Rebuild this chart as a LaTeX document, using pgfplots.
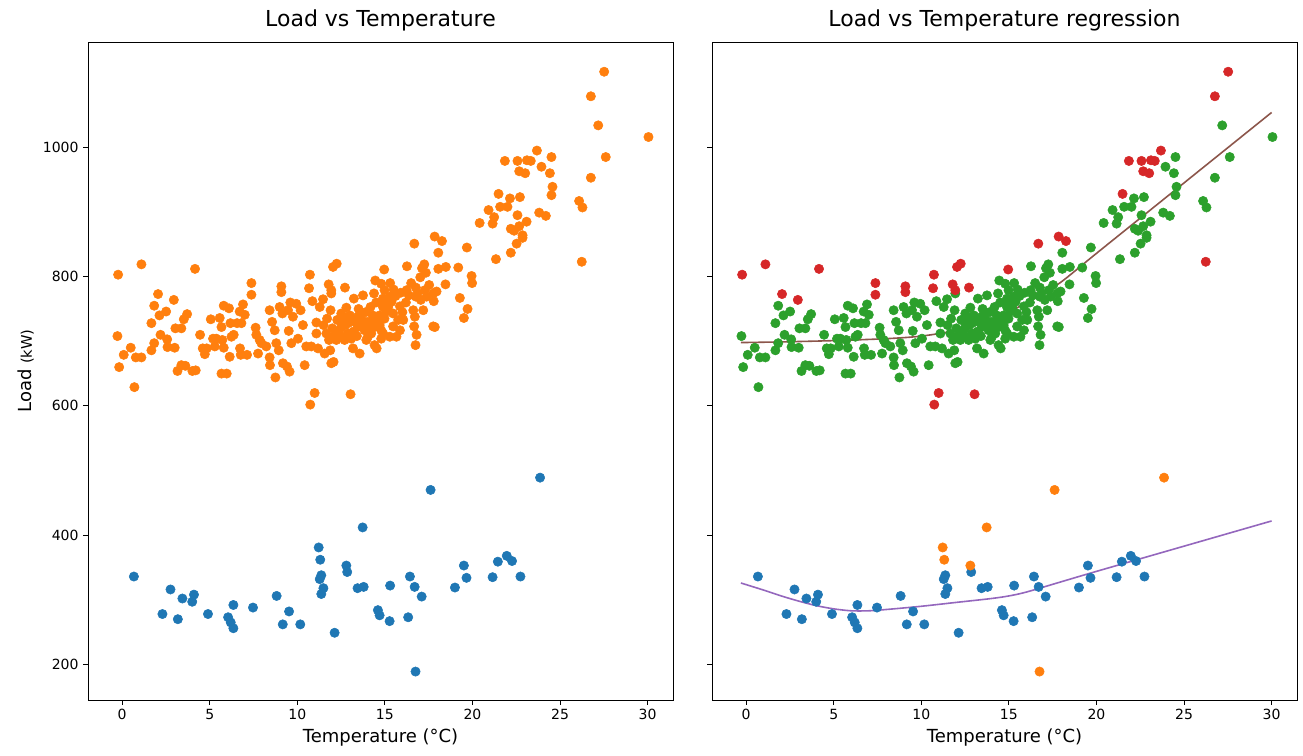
\documentclass[border=0pt]{standalone}
\usepackage{fontspec}
\setmainfont{DejaVu Sans}
\usepackage{pgfplots}
\usepackage{pgfplotstable}
\pgfplotsset{compat=1.18}

\definecolor{c0}{HTML}{1F77B4}
\definecolor{c1}{HTML}{FF7F0E}
\definecolor{c2}{HTML}{2CA02C}
\definecolor{c3}{HTML}{D62728}
\definecolor{c4}{HTML}{9467BD}
\definecolor{c5}{HTML}{8C564B}

% lower cluster, inliers
\pgfplotstableread{
x y
0.67 336
2.76 316
2.30 278
3.18 270
3.44 302
4.00 297
4.10 308
4.90 278
6.05 273
6.20 265
6.35 256
6.35 292
7.47 288
8.82 306
9.17 262
9.53 282
10.17 262
11.37 338
11.28 332
11.49 318
11.37 309
12.13 249
12.85 343
13.44 318
13.79 320
14.60 284
14.70 276
15.27 267
15.30 322
16.33 273
16.43 336
16.70 320
17.10 305
19.00 319
19.51 353
19.66 334
21.15 335
21.45 359
21.96 368
22.26 360
22.74 336
}\lowin

% lower cluster, outliers
\pgfplotstableread{
x y
11.22 381
11.31 362
12.80 353
13.73 412
16.75 189
17.61 470
23.86 489
}\lowout

% upper cluster, outliers
\pgfplotstableread{
x y
-0.23 803
1.10 819
2.05 773
2.95 764
4.16 812
7.38 790
7.38 772
9.09 785
9.09 776
10.72 803
10.67 782
11.79 788
11.94 779
12.04 815
12.25 820
12.72 783
14.96 811
10.99 620
10.74 602
13.04 618
27.52 1117
26.76 1079
23.68 995
21.85 979
22.57 979
23.11 980
23.33 979
22.67 963
23.01 960
21.49 928
17.84 862
18.26 855
16.68 851
26.24 823
}\upout

% upper cluster, inliers
\pgfplotstableread{
x y
-0.27 708
-0.17 660
0.09 679
0.49 690
0.70 629
0.78 675
1.10 675
1.67 728
1.67 686
1.83 755
1.83 697
2.13 740
2.19 710
2.51 746
2.57 703
2.59 691
3.00 690
3.04 720
3.38 720
3.52 734
3.71 742
3.16 654
3.38 663
3.61 662
4.01 654
4.20 655
4.45 710
4.60 689
4.72 680
4.83 689
5.06 734
5.19 704
5.29 692
5.38 704
5.57 736
5.67 722
5.67 650
5.72 702
5.80 755
5.80 690
5.97 650
6.10 751
6.14 676
6.18 728
6.24 707
6.37 710
6.56 728
6.71 746
6.73 689
6.77 679
6.90 757
7.00 741
6.81 728
7.13 679
7.62 721
7.66 710
7.76 681
7.85 702
7.95 697
8.23 692
8.42 748
8.42 675
8.44 663
8.56 730
8.71 717
8.75 644
8.80 697
8.94 686
8.99 753
9.15 743
9.18 666
9.41 661
9.47 748
9.51 716
9.56 653
9.60 760
9.66 697
9.75 738
9.94 758
10.04 704
10.19 748
10.32 725
10.42 663
10.51 692
10.80 692
10.86 762
11.09 729
11.09 712
11.18 689
11.28 753
11.47 765
11.56 681
11.66 712
11.81 702
11.90 748
11.94 666
12.07 668
11.88 686
11.94 774
12.23 702
12.28 733
12.42 717
12.51 743
12.61 733
12.70 702
12.74 725
12.89 712
13.08 704
13.18 689
13.23 766
13.27 730
13.46 722
13.56 681
13.61 740
13.75 771
13.84 717
14.00 730
14.03 707
14.18 753
14.32 733
14.38 774
14.41 694
14.41 722
14.53 689
14.70 740
14.79 789
14.79 717
14.89 766
14.89 753
14.98 779
14.98 735
12.51 722
12.80 735
13.46 738
13.65 728
14.13 725
14.60 730
13.94 702
14.22 712
14.79 704
11.50 725
11.70 735
12.00 720
12.10 708
12.30 712
12.60 706
12.90 728
13.00 740
13.20 715
13.40 708
13.70 732
13.90 745
14.10 718
14.30 740
14.50 760
14.70 725
15.00 760
13.50 750
12.80 752
14.90 712
15.50 780
15.90 775
16.20 760
16.50 790
15.30 790
16.00 745
27.18 1034
30.05 1016
27.61 985
26.76 953
26.09 917
26.28 907
24.51 985
23.94 970
24.42 960
24.57 939
24.51 926
23.81 899
24.19 894
22.71 923
22.14 921
21.58 908
22.00 908
22.57 895
20.92 903
21.24 892
21.15 882
20.41 883
23.09 885
22.67 878
22.19 874
22.38 871
22.86 864
22.86 860
22.52 851
22.19 837
21.34 827
19.68 845
19.19 814
19.95 801
18.05 837
16.26 816
17.25 819
17.12 813
17.34 806
18.05 812
18.48 815
17.02 799
14.45 794
15.28 769
15.61 770
15.86 754
15.19 753
15.38 761
15.09 746
16.24 779
16.37 771
16.77 783
16.86 774
16.77 769
16.62 748
16.71 738
16.67 723
16.81 710
16.75 694
17.19 748
17.05 764
17.28 779
17.53 787
17.76 774
17.79 762
17.38 769
17.95 777
17.76 723
17.85 722
18.46 788
19.28 767
19.72 750
19.51 736
19.98 790
15.76 733
15.86 717
16.05 733
15.47 723
15.66 707
15.28 707
15.47 743
}\upin

\pgfplotsset{
  panel/.style={
    scale only axis, width=438.75pt, height=493.5pt,
    xmin=-1.95, xmax=31.45, ymin=145, ymax=1163,
    xtick={0,5,...,30}, ytick={200,400,...,1000},
    tick align=outside, xtick pos=lower, ytick pos=left,
    major tick length=3.6pt,
    tick style={black, line width=0.6pt},
    axis line style={line width=0.6pt},
    ticklabel style={font=\fontsize{10.5}{12}\selectfont},
    /pgf/number format/assume math mode=true,
    /pgf/number format/1000 sep={},
    title style={font=\fontsize{16.5}{20}\selectfont, yshift=-1.5pt},
    xlabel style={font=\fontsize{13.5}{16}\selectfont},
    ylabel style={font=\fontsize{13.5}{16}\selectfont},
    anchor=south west,
  },
  dots/.style={only marks, mark=*, mark size=3.5pt, mark options={draw=#1, fill=#1}},
}

\begin{document}
\begin{tikzpicture}
\useasboundingbox (-66pt,-42pt) rectangle (911.25pt,525pt);

\begin{axis}[panel, at={(0pt,0pt)},
  title={Load vs Temperature},
  xlabel={Temperature (°C)},
  ylabel={Load {\fontsize{11}{13}\selectfont(kW)}}]
\addplot[dots=c0] table {\lowin};
\addplot[dots=c0] table {\lowout};
\addplot[dots=c1] table {\upin};
\addplot[dots=c1] table {\upout};
\end{axis}

\begin{axis}[panel, at={(468pt,0pt)},
  title={Load vs Temperature regression},
  xlabel={Temperature (°C)},
  yticklabels={}]
\addplot[dots=c0] table {\lowin};
\addplot[dots=c1] table {\lowout};
\addplot[dots=c2] table {\upin};
\addplot[dots=c3] table {\upout};
\addplot[c4, line width=1.2pt, smooth] coordinates {
  (-0.3,326) (1,315) (2,306) (3,298) (4,291) (5,286) (6,283) (7,283)
  (8,285) (10,290) (12,296) (14,302) (15,306) (16,312) (18,328)
  (20,344) (25,383) (30,422)};
\addplot[c5, line width=1.2pt, smooth] coordinates {
  (-0.3,698) (2,699) (5,701) (8,704) (10,708) (12,717) (14,734)
  (15,745) (16,760) (17,776) (18,792) (20,836) (25,945) (30,1054)};
\end{axis}
\end{tikzpicture}
\end{document}
